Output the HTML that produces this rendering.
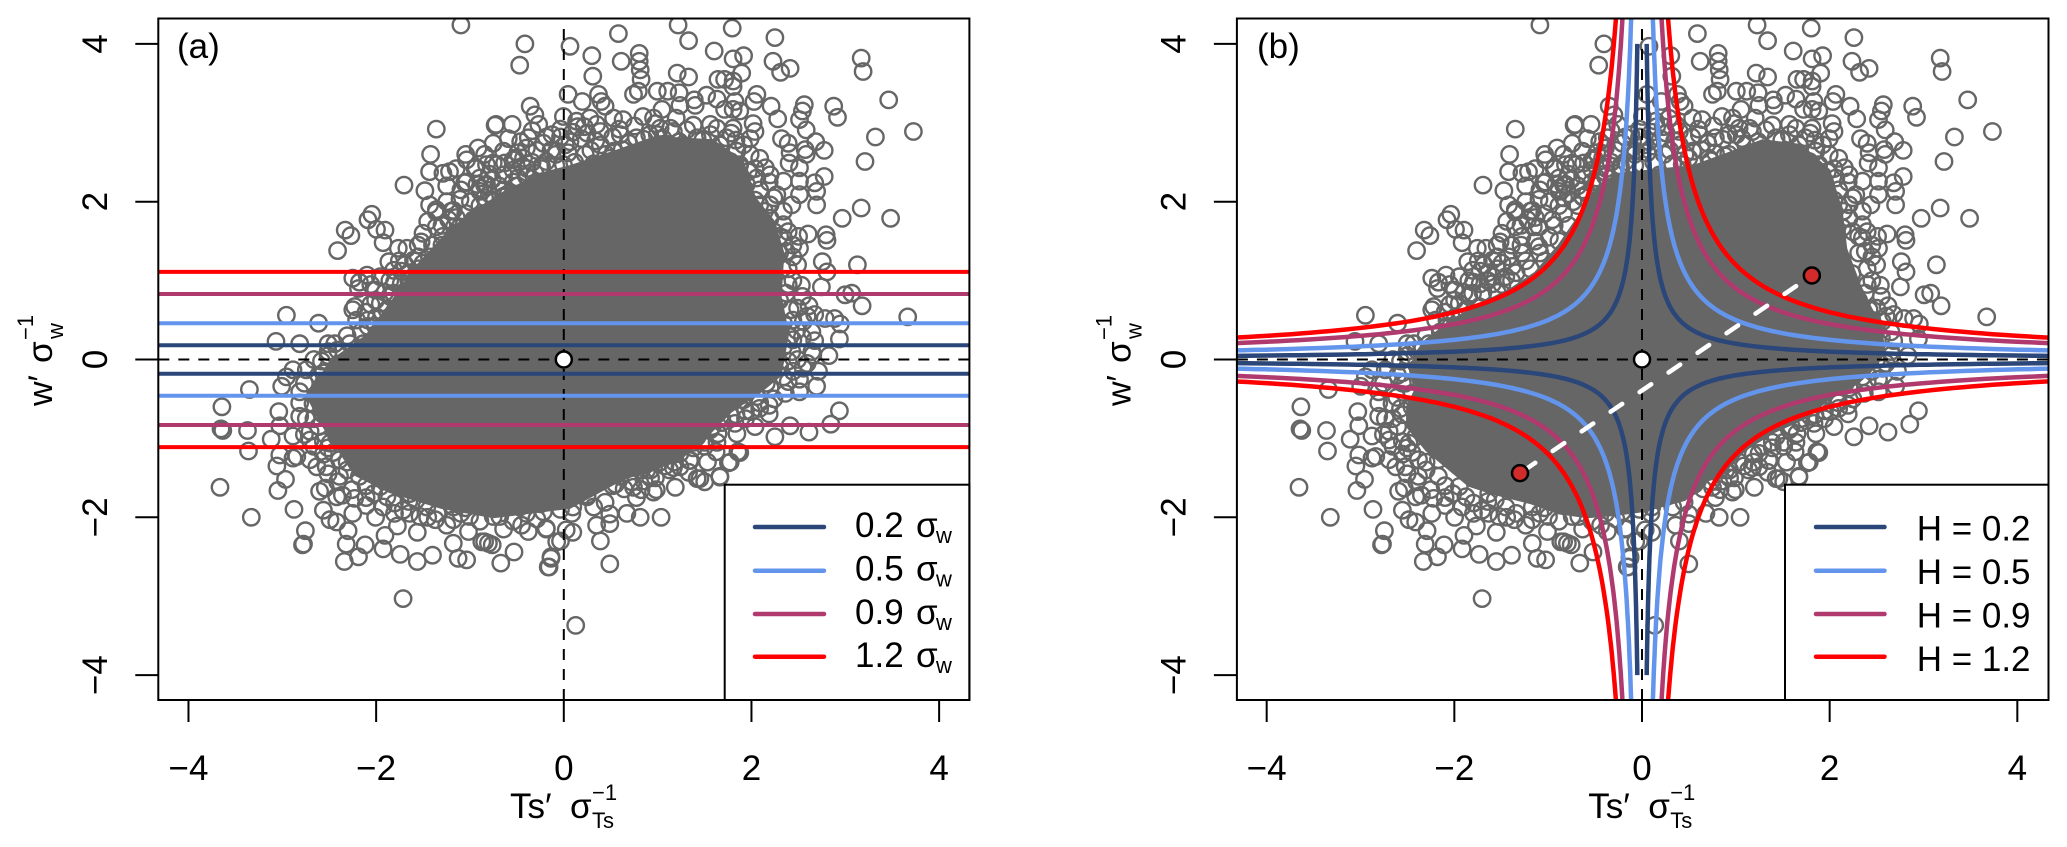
<!DOCTYPE html>
<html lang="en">
<head>
<meta charset="utf-8">
<title>Scatter of w' and Ts' with hole thresholds</title>
<style>
html,body{margin:0;padding:0;background:#fff;width:2067px;height:847px;overflow:hidden;}
svg{display:block;}
text{font-family:"Liberation Sans",sans-serif;fill:#000;}
</style>
</head>
<body>
<svg id="figure" xmlns="http://www.w3.org/2000/svg" width="2067" height="847" viewBox="0 0 2067 847">
<defs>
<clipPath id="clip-a"><rect x="158.3" y="18.5" width="811.1" height="681.5"/></clipPath>
<clipPath id="clip-b"><rect x="1236.9" y="18.5" width="811.6" height="681.5"/></clipPath>
</defs>
<rect x="0" y="0" width="2067" height="847" fill="#fff"/>
<g id="panel-a"></g>
<g id="panel-b"></g>

<g>
<text transform="translate(52,406) rotate(-90)" font-size="34">w′</text>
<text transform="translate(52,363) rotate(-90)" font-size="35">σ</text>
<text transform="translate(63,339) rotate(-90)" font-size="22">w</text>
<text transform="translate(33,340) rotate(-90)" font-size="22">−1</text>
</g>
<g>
<text x="510" y="818" font-size="35">Ts′</text>
<text x="570" y="818" font-size="35">σ</text>
<text x="592" y="828" font-size="22">Ts</text>
<text x="592" y="800" font-size="22">−1</text>
</g>
<text x="177" y="58" font-size="35">(a)</text>

<g>
<text transform="translate(1130.6,406) rotate(-90)" font-size="34">w′</text>
<text transform="translate(1130.6,363) rotate(-90)" font-size="35">σ</text>
<text transform="translate(1141.6,339) rotate(-90)" font-size="22">w</text>
<text transform="translate(1111.6,340) rotate(-90)" font-size="22">−1</text>
</g>
<g>
<text x="1588.2" y="818" font-size="35">Ts′</text>
<text x="1648.2" y="818" font-size="35">σ</text>
<text x="1670.2" y="828" font-size="22">Ts</text>
<text x="1670.2" y="800" font-size="22">−1</text>
</g>
<text x="1257" y="58" font-size="35">(b)</text>
</svg>
<script>
const xTicks = [-4, -2, 0, 2, 4];
const yTicks = [-4, -2, 0, 2, 4];
const tickLabels = ['−4', '−2', '0', '2', '4'];
const seriesColors = ['#2b4679', '#6495ed', '#b03a6e', '#ff0000'];
const horizontalLevels = [0.18, 0.46, 0.83, 1.11];
const holeSizes = [0.2, 0.5, 0.9, 1.2];
const legendLabelsA = ['0.2', '0.5', '0.9', '1.2'];
const legendLabelsB = ['H = 0.2', 'H = 0.5', 'H = 0.9', 'H = 1.2'];
const origin = [0, 0];
const eventMarkers = [[1.81, 1.065], [-1.30, -1.44]];

const denseCoreA = [[0,2.45],[.5,2.65],[.9,2.82],[1.5,2.78],[1.82,2.52],[1.95,2.05],[2.15,1.75],[2.25,1.35],[2.22,.8],[2.3,.33],[2.22,-.2],[2.02,-.4],[1.7,-.66],[1.42,-1],[1.1,-1.3],[.55,-1.52],[0,-1.88],[-.81,-2],[-1.36,-1.88],[-1.9,-1.68],[-2.27,-1.46],[-2.6,-.85],[-2.78,-.45],[-2.5,0],[-2.15,.3],[-1.87,.75],[-1.62,1.18],[-1.3,1.6],[-1.02,1.88],[-.67,2.13],[-.33,2.35]];

const denseCoreB = [[-.35,2.35],[.2,2.42],[.46,2.45],[.8,2.6],[1.2,2.78],[1.6,2.72],[1.9,2.4],[2.03,1.9],[2.08,1.4],[2.22,.95],[2.32,.7],[2.45,.4],[2.48,.1],[2.38,-.1],[2.2,-.3],[1.9,-.5],[1.65,-.74],[1.32,-.92],[1.02,-1.14],[.78,-1.44],[.62,-1.52],[.38,-1.78],[-.05,-1.92],[-.35,-1.97],[-.65,-2],[-.95,-1.95],[-1.25,-1.82],[-1.65,-1.7],[-1.9,-1.6],[-2.1,-1.4],[-2.35,-1.15],[-2.55,-.85],[-2.55,-.6],[-2.45,-.35],[-2.5,-.15],[-2.48,.05],[-2.35,.25],[-2.05,.52],[-1.75,.72],[-1.45,.9],[-1.2,1.1],[-.95,1.45],[-.75,1.8],[-.6,2.1]];

const scatterPoints = [
[.51,4.13],[1.14,4.24],[1.71,4.2],[2.16,4.08],[1.25,4.04],[.23,3.85],[.73,3.88],[1.52,3.91],[.54,3.78],[1.72,3.81],[1.83,3.85],[.73,3.78],[.74,3.67],[2.14,3.78],[2.32,3.69],[2.22,3.64],[3.07,3.82],[3.09,3.65],[.24,3.59],[1.13,3.63],[1.25,3.58],[1.81,3.63],[.75,3.55],[1.56,3.55],[1.63,3.55],[1.72,3.53],[1.72,3.46],[3.36,3.29],[.72,3.4],[.67,3.36],[.92,3.4],[1.03,3.4],[1.15,3.38],[0,3.97],[1.97,3.36],[1.94,3.27],[1.44,3.35],[1.55,3.3],[1.31,3.29],[1.32,3.22],[1.74,3.27],[2.12,3.21],[2.47,3.23],[2.45,3.15],[2.78,3.21],[2.82,3.07],[2.19,3.05],[2.42,3.04],[1.72,3.17],[1.63,3.17],[1.79,3.15],[1.16,3.22],[.97,3.17],[.13,3.27],[.3,3.36],[.33,3.27],[.37,3.21],[3.22,2.82],[3.62,2.89],[2.49,2.91],[2.59,2.76],[1.93,2.99],[1.95,2.89],[2.23,2.8],[2.3,2.74],[2.68,2.65],[3.11,2.51],[2.48,2.66],[2.49,2.6],[2.32,2.62],[2.31,2.49],[2.06,2.43],[2.42,2.43],[2.68,2.32],[2.58,2.24],[2.6,2.13],[2.6,1.96],[3.07,1.92],[2.87,1.79],[3.38,1.79],[2.34,1.96],[2.25,1.71],[2.51,1.59],[2.7,1.58],[2.71,1.51],[2.41,1.56],[2.21,1.56],[2.42,1.41],
[1.48,2.98],[1.72,2.93],[1.83,2.72],[1.88,2.38],[1.97,2.3],[2.11,2.34],[2.25,2.26],[2.42,2.26],[2.42,2.09],[2.18,2.09],[2,1.96],[2.11,1.79],[2.04,1.67],[2.25,1.54],[2.28,1.37],[.77,3.08],[.88,3.06],[1.12,3.06],[.95,2.93],[.56,3.04],[.46,3.06],[.21,3.06],[.07,3.02],[.32,2.89],[.53,2.85],[.18,2.87],[0,2.76],[.16,2.6],[.32,2.72],[.46,2.64],[.7,2.81],[.84,2.85],[1.09,2.89],[1.23,2.91],[1.34,2.81],[1.23,2.64],[1.02,2.72],[1.48,2.85],[1.65,2.81],[1.76,2.64],[1.69,2.51],[1.79,2.47],[.11,2.34],[.35,2.47],[.63,2.55],[.84,2.6],[1.12,2.47],[1.34,2.3],[1.48,2.13],[1.65,2.09],[1.79,1.83],[1.97,1.62],[2.11,1.96],[1.86,2.22],[1.55,2.47],
[-1.15,4.24],[-.475,4],[-.53,3.73],[-.07,3.08],[-.02,3.36],[-1.41,2.92],[-.42,3.21],[-.37,3.1],[-.79,2.97],[-.78,2.98],[-.61,2.98],[-1.47,2.6],[-1.75,2.21],[-1.48,2.38],[-1.34,2.36],[-1.27,2.38],[-1.53,2.14],[-1.48,1.96],[-2.09,1.84],[-2.13,1.77],[-.97,2.68],[-1.1,2.6],[-1.09,2.53],[-.99,2.43],[-.81,2.74],[-.77,2.47],[-.69,2.49],[-.49,2.55],[-.33,2.98],[-.44,2.81],[-.28,2.74],[-.19,2.85],[-1.11,2.24],[-.95,2.17],[-.88,2.22],[-.7,2.34],[-.55,2.3],[-.37,2.36],[-1.16,2.03],[-1.41,1.9],[-1.25,1.88],[-.7,2.07],[-.56,2.09],[-.58,2.55],[-.7,2.64],[-.46,2.68],[-.14,2.64],[-.25,2.51],[-.07,2.47],[-.88,2.47],[-.98,2.22],
[-2.37,1.64],[-2.31,1.57],[-2.04,1.65],[-1.95,1.64],[-1.97,1.48],[-2.45,1.38],[-1.81,1.41],[-1.72,1.41],[-1.55,1.6],[-1.57,1.49],[-1.41,1.68],[-1.34,1.56],[-1.23,1.89],[-1.28,1.77],[-1.41,1.87],[-1.91,1.24],[-2.14,1.07],[-2.29,1.03],[-2.22,.98],[-2.23,.9],[-1.86,1.13],[-1.78,.96],[-2,.71],[-2.27,.67],[-2.29,.63],[-2.13,.5],[-2.13,.42],[-2.99,.56],[-2.65,.46],[-3.1,.23],[-2.85,.2],[-2.32,.2],[-2.18,.2],[-1.86,.84],[-1.74,1.2],[-1.65,1.26],[-1,2.42],[-1.09,2.25],[-.9,2.21],[-.95,2.13],[-.81,2.49],[-.6,2.53],[-.46,2.32],[-.7,2.06],[-1.16,1.68],[-1.02,1.77],[-1.16,1.43],[-1.34,1.35],[-1.55,1.22],[-2,1.05],[-1.65,.96],[-1.51,1.05],[-1.44,1.18],[-1.86,.54],[-1.93,.63],[-1.79,.67],[-2.04,.54],[-2.07,.25],[-1.9,.29],[-2,.08],
[-3.38,-.38],[-3.67,-.6],[-3.07,-.66],[-3.68,-.88],[-3.66,-.9],[-3.4,-.9],[-3.06,-.84],[-3.15,-1.01],[-2.92,-.97],[-3.39,-1.16],[-3.06,-1.21],[-3.09,-1.35],[-3,-1.52],[-3.69,-1.62],[-3.08,-1.66],[-2.91,-1.9],[-3.36,-2],[-2.79,-2.17],[-2.81,-2.34],[-2.82,-2.35],[-2.36,-2.34],[-2.16,-2.35],[-2.38,-2.56],[-2.23,-2.5],[-1.97,-2.4],[-1.95,-2.23],[-1.82,-2.11],[-1.79,-2.47],[-1.61,-2.19],[-1.45,-2.48],[-1.61,-2.56],[-1.23,-2.33],[-1.18,-2.52],[-1.09,-2.54],[-.93,-2.31],[-.82,-2.35],[-.73,-2.58],[-.59,-2.44],[-.23,-2.63],[-.2,-2.52],[-.14,-2.31],[-.25,-2.14],[-.44,-2.18],[-.51,-2.1],[-1.42,-2.03],[-1.23,-2.03],[-1.07,-2.18],[-.9,-2.31],[-.86,-2.33],[-2.6,-1.91],[-2.64,-1.67],[-2.58,-1.63],[-2.53,-2.03],[-2.46,-2.06],[-2.34,-2.17],[-2.29,-1.95],[-2.27,-1.76],[-2.46,-1.74],[-1.76,-3.03],[-2.88,-1.23],[-2.92,-1.25],[-2.78,-.75],[-2.85,-.41],[-3.04,-.34],[-2.99,-.22],[-2.78,-.13],[-2.57,-.3],[-2.71,-.56],[-2.6,-1.04],[-2.46,-.98],[-2.67,-1.36],[-2.43,-1.48],[-2.22,-1.48],[-1.97,-1.87],[-1.69,-1.95],[-1.69,-1.7],[-1.58,-1.99],[-.81,-1.99],[-.74,-1.99],[-.53,-1.87],[-.28,-1.93],[-.07,-1.74],[-.04,-2.16],[-2.92,-.13],[-2.74,-1.02],[-2.53,-1.06],[-2.74,-1.27],[-2.57,-1.36],[-2.43,-1.27],[-2.22,-1.27],[-2,-1.61],[-2.07,-1.7],[-1.93,-1.74],[-1.76,-1.91],[-1.62,-1.78],[-1.51,-1.87],[-1.23,-1.87],[-1.06,-1.99],[-.95,-1.82],[-.46,-1.95],[-.18,-1.78],[-2.85,-.72],[-2.74,-.91],[-2.5,-.6],[-2.36,-.68],[-2.5,-.43],[-2.6,-.17],[-2.43,-.13],[-2.36,-.89],[-2.25,-1.06],
[2.66,1.24],[3.03,1.2],[2.71,1.11],[2.44,.94],[2.65,.92],[2.9,.82],[2.97,.84],[3.08,.68],[3.56,.54],[2.58,.57],[2.69,.52],[2.79,.52],[2.85,.45],[2.46,.48],[2.84,.26],[2.58,.24],[2.32,.29],[2.73,.05],[2.56,.06],[2.34,.1],[2.62,-.15],[2.46,-.11],[2.35,-.15],[2.6,-.34],[2.42,-.41],[2.27,-.43],[2.11,-.36],[2.1,-.58],[2.84,-.65],[1.91,-.66],[2.1,-.69],[2.32,-.84],[2.75,-.82],[2.52,-.92],[2.16,-.98],[1.74,-.81],[1.76,-.94],[1.56,-.94],[1.77,-1.17],[1.54,-1.17],[1.67,-1.31],[1.26,-1.28],[1.16,-1.36],[1.58,-1.48],[1.34,-1.51],[1.42,-1.55],[2.21,-.09],[2.04,-.07],[2.21,1.35],[2.35,1.3],[2.14,1.09],[2.28,.84],[2.32,.63],[2.21,.75],[2.11,.5],[2.39,.37],[2.25,.46],[2.25,.16],[2.14,.08],[2.25,-.22],[2.07,-.3],[1.97,-.47],[1.83,-.51],[1.65,-.56],[1.48,-.72],[1.48,-.89],[1.34,-.98],[1.16,-1.19],[1.05,-1.4],[.81,-1.4],[.74,-1.4],[.53,-1.48],[.35,-1.48],
[.06,-3.37],[.42,-2.59],[.74,-2],[.96,-2],[1.11,-1.62],[.91,-1.65],[.88,-1.68],[1.37,-1.51],[1.58,-1.49],[1.69,-1.3],[1.79,-1.18],[1.27,-1.28],[-.1,-2.3],[.03,-2.19],[-.25,-2.15],[.28,-2.1],[.42,-2.08],[.42,-1.96],[.32,-2.3],[.37,-1.81],[.18,-1.74],[.57,-1.64],[.67,-1.62],[-.2,-2.5],[-.22,-2.63],[.03,-1.87],[.25,-1.87],[-.31,-1.83],[1.09,-1.37],[.78,-1.54],[.48,-1.58],[.1,-1.62],
[-1.7,1],[-1.6,1.15],[-1.4,1.1],[-1.3,1.25],[-1.15,1.35],[-1.2,1.5],[-1.05,1.55],[-1,1.7],[-.9,1.85],[-.85,1.7],[-.8,2],[-.7,2.15],[-.55,2.2],[-.5,2.45],[-.4,2.5],[-1.9,.8],[-1.75,.85],[-1.55,.95],[-1.45,1],[-1.25,1.15],[-1.1,1.25],[-.95,1.5],[-.75,1.95],[-.65,2.1],[-1.6,.85],[-2.1,.7],[-1.65,1.05],[-1.35,1.45],[-1.1,1.85],[-.9,2.05],[-1.48,1.3],[-1.85,.98],[-1.22,1.68],[-2.05,.88],[-1.78,1.12],[-.82,2.28],
[.9,-1.5],[.7,-1.75],[1.3,-1.05],[1.5,-.85],[1.75,-.7],[2,-.62],[1.1,-1.2],[1.2,-1.1],[1.6,-.8],[1.85,-.75],[1,-1.35],[.85,-1.5],[.75,-1.65],[.6,-1.95],[1.42,-1.1],[1.95,-.85],
[-2.55,-1.12],[-2.4,-1.72],[-2.15,-1.6],[-2.15,-1.85],[-1.85,-1.82],[-1.4,-1.95],[-1.1,-1.88],[-2.7,-.75],[-2.62,-.62],[-2.5,-1.18],[-2.35,-1.3],
[.08,2.95],[.28,2.98],[.52,2.92],[.68,2.96],[.9,2.99],[1.06,2.93],[1.3,2.97],[1.55,2.93],[1.7,2.87],[-.1,2.82],[.12,2.8],[.27,2.77],[.45,2.82],[.62,2.74],[.78,2.79],[.98,2.8],[1.15,2.76],[1.4,2.78],[1.58,2.72],[1.75,2.78],[1.9,2.8],[-.2,2.65],[-.02,2.62],[.22,2.65],[.38,2.6],[.55,2.66],[.7,2.62],[.92,2.85],[-.3,2.42],[-.15,2.46],[.05,2.5],[.25,2.48],[.42,2.55],[.65,2.52],[.8,2.58],
[1.9,2.6],[2,2.55],[1.95,2.42],[2.1,2.25],[2,2.15],[2.15,2.05],[1.95,2.02],[2.05,1.88],[2.25,1.88],[2.3,1.62],[2.15,1.62],[2.35,1.45],[2.4,1.2],[2.3,1.15],[2.35,1],[2.45,.8],[2.3,.95],[2.4,.65],[2.35,.5],[2.45,.28],[2.35,.25],[2.4,0],[2.3,-.02],[2.3,-.28],[2.15,-.5],[2,-.55],[1.85,-.65],[1.7,-.72],[1.6,-.75],[1.55,-1.05],[1.42,-1.05],[1.3,-1.12],[1.45,-1.3],[1.25,-1.43],[1.1,-1.3],[.95,-1.3],[.85,-1.4],[.65,-1.55],[.45,-1.6],[.3,-1.55],[.18,-1.72],[-.1,-1.9],[.02,-1.95],
[-.35,-2.02],[-.6,-2.05],[-.7,-2.15],[-.95,-2.05],[-1.15,-1.95],[-1.3,-2.1],[-1.5,-2],[-1.7,-1.8],[-1.85,-1.95],[-2.05,-2],[-2.15,-1.75],[-2.3,-1.65],[-2.45,-1.55],[-2.35,-1.4],[-2.55,-1.45],[-2.6,-1.2],[-2.7,-1.1],[-2.8,-.95],[-2.65,-.85],[-2.6,-.7],[-2.85,-.55],[-2.8,-.3],[-2.65,-.2],[-2.7,0],[-2.55,.05],[-2.45,.12],[-2.55,.2],
[-2.35,.3],[-2.2,.35],[-2.25,.5],[-2.05,.42],[-1.95,.45],[-2.15,.6],[-2.05,.75],[-1.95,.85],[-2.1,.95],[-1.9,1],[-1.7,1.1],[-1.8,1.25],[-1.6,1.3],[-1.45,1.45],[-1.6,1.45],[-1.5,1.75],[-1.35,1.7],[-1.2,1.8],[-1.3,2],[-1.15,2.15],[-1.05,2],[-.95,1.95],[-.85,2.1],[-.75,2.2],[-.6,2.25],[-.45,2.42],[-.3,2.45],[-.6,2.4],[-.85,2.35],[-.95,2.3],[-.15,2.6],[-.35,2.65],[-.55,2.62],
[-.52,2.76],[-.25,2.82],[-.1,2.92],[.03,2.88],[-.4,2.9],[-.65,2.8],[-.9,2.6],[-1.2,2.42],[-1.3,2.2],[-.05,2.72],[.15,2.95],[2.55,.1],[2.5,-.05],[2.5,.55],[2.55,.35],[2.42,-.25],[2.52,.68],[-2.62,-.02],[-2.55,.1],[-2.6,-.3],[-2.48,.2],[-2.66,-.48]
];

const NS = 'http://www.w3.org/2000/svg';
const panels = {
  a: { left: 158.3, right: 969.4, zeroX: 563.8, scatterZero: 570, clip: 'url(#clip-a)' },
  b: { left: 1236.9, right: 2048.5, zeroX: 1642, scatterZero: 1649, clip: 'url(#clip-b)' }
};
const xUnit = 93.83;
const yUnit = 78.9;
/* The scatter readings were taken in a slightly offset reading frame. */
const scatterUnit = 94.85;
const zeroY = 359.5;
const plotTop = 18.5;
const plotBottom = 700;
const dashTop = 28;
const curveStartX = 0.05;
const yLimit = 4.33;
const xLimit = 4.35;

function xScale(panel, v) { return panel.zeroX + v * xUnit; }
function scatterXScale(panel, v) { return panel.scatterZero + v * scatterUnit; }
function yScale(v) { return zeroY - v * yUnit; }
function make(tag, attrs, parent) {
  const el = document.createElementNS(NS, tag);
  for (const k in attrs) el.setAttribute(k, attrs[k]);
  parent.appendChild(el);
  return el;
}
function polyPoints(panel, rows) {
  return rows.map(function (p) { return scatterXScale(panel, p[0]).toFixed(1) + ',' + yScale(p[1]).toFixed(1); }).join(' ');
}
function hyperbolaPath(panel, h, sx, sy) {
  let x = Math.max(curveStartX, h / yLimit);
  let d = 'M' + xScale(panel, sx * x).toFixed(1) + ' ' + yScale(sy * h / x).toFixed(1);
  while (x < xLimit) {
    x = Math.min(x * 1.03, xLimit);
    d += 'L' + xScale(panel, sx * x).toFixed(1) + ' ' + yScale(sy * h / x).toFixed(1);
  }
  return d;
}

function drawCommon(key, core) {
  const panel = panels[key];
  const root = document.getElementById('panel-' + key);
  const plot = make('g', { 'clip-path': panel.clip }, root);
  
  

  const coreEl = make('polygon', { points: polyPoints(panel, core), fill: '#666', stroke: '#666', 'stroke-width': 2 }, plot);
  
  

  const pts = make('g', { fill: 'none', stroke: '#666', 'stroke-width': 2.4 }, plot);
  
  
  scatterPoints.forEach(function (p) {
    const c = make('circle', { cx: scatterXScale(panel, p[0]).toFixed(1), cy: yScale(p[1]).toFixed(1), r: 8.2 }, pts);
    
    
  });

  const hz = make('line', { x1: panel.left, x2: panel.right, y1: yScale(0), y2: yScale(0), stroke: '#000', 'stroke-width': 2, 'stroke-dasharray': '11 9' }, plot);
  
  
  const vt = make('line', { x1: xScale(panel, 0), x2: xScale(panel, 0), y1: plotBottom, y2: dashTop, stroke: '#000', 'stroke-width': 2, 'stroke-dasharray': '11 9' }, plot);
  
  
  return plot;
}

function drawFrame(key, legendLeft, legendLineX1, legendLineX2, legendTextX, legendLabels, baselines, withSigma) {
  const panel = panels[key];
  const root = document.getElementById('panel-' + key);

  const legend = make('g', {}, root);
  
  
  const lbox = make('rect', { x: legendLeft, y: 484.7, width: panel.right - legendLeft, height: plotBottom - 484.7, fill: '#fff', stroke: '#000', 'stroke-width': 2 }, legend);
  
  
  const rowY = [527, 570.7, 614, 656.7];
  legendLabels.forEach(function (lab, i) {
    const ln = make('line', { x1: legendLineX1, x2: legendLineX2, y1: rowY[i], y2: rowY[i], stroke: seriesColors[i], 'stroke-width': 4.5, 'stroke-linecap': 'round' }, legend);
    
    
    const t = make('text', { x: legendTextX, y: baselines[i], 'font-size': 35 }, legend);
    t.textContent = lab;
    
    
    if (withSigma) {
      const s = make('text', { x: legendTextX + 61, y: baselines[i], 'font-size': 35 }, legend);
      s.textContent = 'σ';
      
      
      const w = make('text', { x: legendTextX + 81, y: baselines[i] + 6, 'font-size': 22 }, legend);
      w.textContent = 'w';
      
      
    }
  });

  const box = make('rect', { x: panel.left, y: plotTop, width: panel.right - panel.left, height: plotBottom - plotTop, fill: 'none', stroke: '#000', 'stroke-width': 2 }, root);
  
  

  xTicks.forEach(function (v, i) {
    const px = xScale(panel, v);
    const tk = make('line', { x1: px, x2: px, y1: plotBottom, y2: 722, stroke: '#000', 'stroke-width': 2 }, root);
    
    
    const lb = make('text', { x: px, y: 780, 'font-size': 35, 'text-anchor': 'middle' }, root);
    lb.textContent = tickLabels[i];
    
    
  });
  yTicks.forEach(function (v, i) {
    const py = yScale(v);
    const tk = make('line', { x1: panel.left - 23, x2: panel.left, y1: py, y2: py, stroke: '#000', 'stroke-width': 2 }, root);
    
    
    const bx = panel.left - 51.5;
    const lb = make('text', { transform: 'translate(' + bx + ',' + py + ') rotate(-90)', 'font-size': 35, 'text-anchor': 'middle' }, root);
    lb.textContent = tickLabels[i];
    
    
  });
}

function drawOrigin(plot, panel) {
  const c = make('circle', { cx: xScale(panel, origin[0]), cy: yScale(origin[1]), r: 8, fill: '#fff', stroke: '#000', 'stroke-width': 2.5 }, plot);
  
  
}

/* panel (a) */
const plotA = drawCommon('a', denseCoreA);
horizontalLevels.forEach(function (lvl, i) {
  [lvl, -lvl].forEach(function (v) {
    const l = make('line', { x1: panels.a.left, x2: panels.a.right, y1: yScale(v), y2: yScale(v), stroke: seriesColors[i], 'stroke-width': 4 }, plotA);
    
    
  });
});
drawOrigin(plotA, panels.a);
drawFrame('a', 724.7, 755, 824, 855, legendLabelsA, [537, 580.6, 624, 667], true);

/* panel (b) */
const plotB = drawCommon('b', denseCoreB);
holeSizes.forEach(function (h, i) {
  [[1, 1], [-1, 1], [1, -1], [-1, -1]].forEach(function (q) {
    const p = make('path', { d: hyperbolaPath(panels.b, h, q[0], q[1]), fill: 'none', stroke: seriesColors[i], 'stroke-width': 4.5 }, plotB);
    
    
  });
});
const link = make('line', {
  x1: xScale(panels.b, eventMarkers[0][0]), y1: yScale(eventMarkers[0][1]),
  x2: xScale(panels.b, eventMarkers[1][0]), y2: yScale(eventMarkers[1][1]),
  stroke: '#fff', 'stroke-width': 4.5, 'stroke-linecap': 'round', 'stroke-dasharray': '14 21', 'stroke-dashoffset': '16'
}, plotB);


eventMarkers.forEach(function (m) {
  const c = make('circle', { cx: xScale(panels.b, m[0]), cy: yScale(m[1]), r: 8, fill: '#d22b2b', stroke: '#000', 'stroke-width': 2.5 }, plotB);
  
  
});
drawOrigin(plotB, panels.b);
drawFrame('b', 1785, 1816, 1884.5, 1916.7, legendLabelsB, [540.7, 584, 627.5, 671], false);
</script>
</body>
</html>
